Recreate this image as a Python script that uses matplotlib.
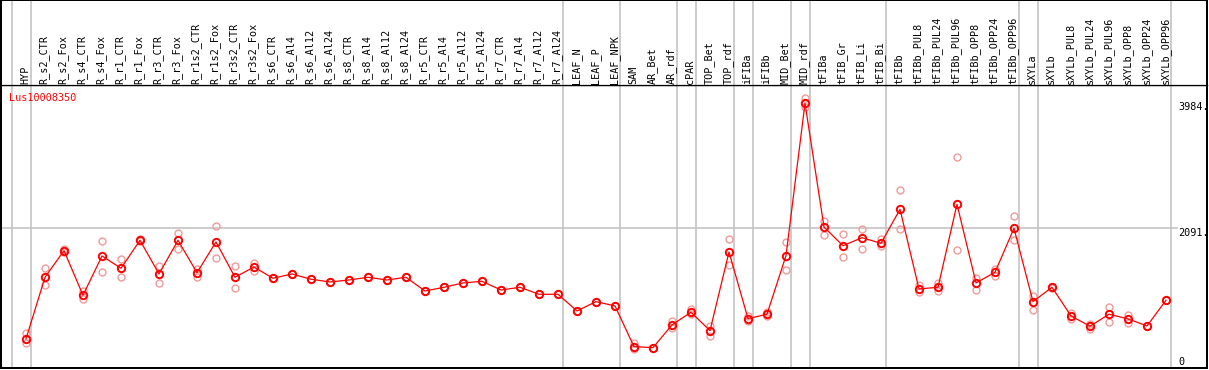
import matplotlib
matplotlib.use("Agg")
import matplotlib.pyplot as plt
import numpy as np

categories = ["HYP", "R_s2_CTR", "R_s2_Fox", "R_s4_CTR", "R_s4_Fox", "R_r1_CTR", "R_r1_Fox",
              "R_r3_CTR", "R_r3_Fox", "R_r1s2_CTR", "R_r1s2_Fox", "R_r3s2_CTR", "R_r3s2_Fox",
              "R_s6_CTR", "R_s6_Al4", "R_s6_Al12", "R_s6_Al24", "R_s8_CTR", "R_s8_Al4",
              "R_s8_Al12", "R_s8_Al24", "R_r5_CTR", "R_r5_Al4", "R_r5_Al12", "R_r5_Al24",
              "R_r7_CTR", "R_r7_Al4", "R_r7_Al12", "R_r7_Al24", "LEAF_N", "LEAF_P", "LEAF_NPK",
              "SAM", "AR_Bet", "AR_rdf", "cPAR", "TOP_Bet", "TOP_rdf", "iFIBa", "iFIBb",
              "MID_Bet", "MID_rdf", "tFIBa", "tFIB_Gr", "tFIB_Li", "tFIB_Bi", "tFIBb",
              "tFIBb_PUL8", "tFIBb_PUL24", "tFIBb_PUL96", "tFIBb_OPP8", "tFIBb_OPP24",
              "tFIBb_OPP96", "sXYLa", "sXYLb", "sXYLb_PUL8", "sXYLb_PUL24", "sXYLb_PUL96",
              "sXYLb_OPP8", "sXYLb_OPP24", "sXYLb_OPP96"]

mean_vals = [407, 1343, 1747, 1070, 1666, 1480, 1904, 1393, 1904, 1413, 1879, 1343, 1499,
             1328, 1393, 1313, 1272, 1302, 1343, 1302, 1343, 1135, 1191, 1257, 1282,
             1150, 1191, 1085, 1085, 832, 973, 908,
             290, 275, 620, 812, 533, 1727, 715, 782, 1671, 3984, 2106, 1822, 1944, 1859,
             2375, 1166, 1191, 2451, 1257, 1419, 2086, 973, 1191, 756, 600, 782, 711, 604, 994]

rep_high = [494, 1480, 1770, 1140, 1889, 1616, 1920, 1515, 2015, 1465, 2121, 1515, 1556,
            1328, 1393, 1313, 1272, 1302, 1343, 1302, 1343, 1135, 1191, 1257, 1282,
            1150, 1191, 1085, 1085, 832, 973, 908,
            342, 275, 685, 858, 604, 1924, 761, 822, 1879, 4059, 2193, 2000, 2076, 1924,
            2667, 1226, 1261, 3163, 1332, 1469, 2268, 1059, 1200, 806, 635, 893, 776, 604, 994]

rep_low = [351, 1222, 1730, 1014, 1424, 1343, 1890, 1252, 1777, 1343, 1631, 1176, 1443,
           1328, 1393, 1313, 1272, 1302, 1343, 1302, 1343, 1135, 1191, 1257, 1282,
           1150, 1191, 1085, 1085, 832, 973, 908,
           251, 275, 569, 790, 453, 1530, 676, 756, 1449, 3931, 1980, 1651, 1768, 1818,
           2071, 1116, 1140, 1753, 1150, 1367, 1904, 847, 1180, 715, 563, 670, 650, 604, 994]

group_ends = [-1, 0, 28, 31, 34, 35, 37, 38, 40, 41, 45, 52, 53, 60]
axis_ticks = [3984, 2091]
gene_name = "Lus10008350"

W, H = 1209, 370
fig = plt.figure(figsize=(W / 100, H / 100), dpi=100)

# pixel geometry
left_px, right_px = 1, 1207
top_hdr, hdr_bot, bot_px = 0, 85, 368
x0_px, step_px = 26, 19

def fx(px):
    return px / W

def fy(py):
    return (H - py) / H

ax = fig.add_axes([fx(left_px), fy(bot_px), fx(right_px - left_px), (bot_px - hdr_bot) / H])
hdr = fig.add_axes([fx(left_px), fy(hdr_bot), fx(right_px - left_px), (hdr_bot - top_hdr) / H],
                   sharex=ax)

xlim = ((left_px - x0_px) / step_px, (right_px - x0_px) / step_px)
ax.set_xlim(*xlim)
# y mapping: 2091 at px 228, 3984 at px 103.3
k = (228 - 103.3) / (3984 - 2091)
ytop = 2091 + (228 - hdr_bot) / k
ybot = 2091 - (bot_px - 228) / k
ax.set_ylim(ybot, ytop)
hdr.set_ylim(0, 1)

for a in (ax, hdr):
    a.set_xticks([])
    a.set_yticks([])
    for s in a.spines.values():
        s.set_color("black")
        s.set_linewidth(1.44)
hdr.spines["bottom"].set_linewidth(0.9)
ax.spines["top"].set_linewidth(0.9)

grid_c = "#c4c4c4"
x = np.arange(len(categories))

# horizontal grid line
grid_right = (1177 - left_px) / (right_px - left_px)
ax.axhline(axis_ticks[1], xmin=0, xmax=grid_right, color=grid_c, lw=1.2, zorder=1)

# vertical group separators
for g in group_ends:
    ax.axvline(g + 0.25, color=grid_c, lw=1.2, zorder=1)
    hdr.axvline(g + 0.25, color=grid_c, lw=1.2, zorder=1)

font = dict(family="DejaVu Sans Mono", size=7.3)

# category labels
for i, c in enumerate(categories):
    hdr.text(i - 0.05, (hdr_bot - 83.5) / hdr_bot, c, rotation=90, ha="center", va="bottom",
             color="black", **font)

# replicate points
light = "#f09a9a"
ax.plot(x, rep_high, linestyle="none", marker="o", markersize=5.0, markerfacecolor="none",
        markeredgecolor=light, markeredgewidth=1.0, zorder=2)
ax.plot(x, rep_low, linestyle="none", marker="o", markersize=5.0, markerfacecolor="none",
        markeredgecolor=light, markeredgewidth=1.0, zorder=2)

# mean line
ax.plot(x, mean_vals, color="#ff0000", lw=0.9, marker="o", markersize=5.3,
        markerfacecolor="none", markeredgecolor="#ff0000", markeredgewidth=1.4, zorder=3)

# gene name
ax.text((9 - left_px) / (right_px - left_px), (bot_px - 97.5) / (bot_px - hdr_bot), gene_name,
        transform=ax.transAxes, ha="left", va="center", color="#ff0000", **font)

# right-side value labels
lab_x = (1178 - left_px) / (right_px - left_px)
for v, py in zip(axis_ticks + [0], [107.3, 232.7, 361.7]):
    ax.text(lab_x, (bot_px - py) / (bot_px - hdr_bot), f"{v}." if v else "0",
            transform=ax.transAxes, ha="left", va="center", color="black", **font)

fig.savefig("out.png", dpi=100)
